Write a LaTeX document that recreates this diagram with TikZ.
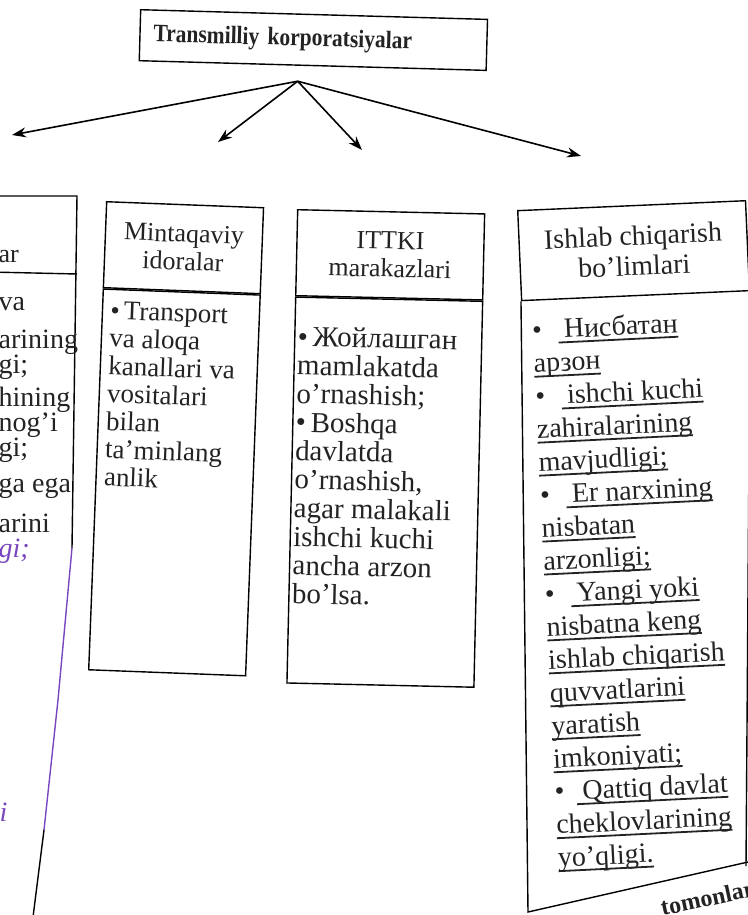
\documentclass[tikz,border=0pt]{standalone}
\usepackage{fontspec}
\setmainfont{Liberation Serif}
\newfontfamily\narrowserif[FakeStretch=0.86]{Liberation Serif}
\newcommand\ulin[1]{\setbox0=\hbox{#1}\rlap{\rule[-2.6pt]{\wd0}{0.9pt}}\box0}
\usetikzlibrary{arrows.meta,positioning}
\definecolor{fringe}{RGB}{120,70,190}
\definecolor{ink}{RGB}{35,35,35}
\begin{document}
\begin{tikzpicture}[x=0.5pt,y=-0.5pt,line width=0.7pt,
    head/.style={draw,anchor=north west,align=center,inner sep=0pt,text=ink,
      font=\fontsize{13}{14}\selectfont},
    body/.style={draw,inner sep=0pt},
    list/.style={anchor=north west,align=left,text=ink}]
  \useasboundingbox (0,0) rectangle (748,915);

  \node[head,rotate=-1.6,minimum width=173.5pt,minimum height=25.5pt,
    text width=160pt,align=left,font=\fontsize{12.5}{14}\narrowserif\bfseries]
    (tnk) at (140,9) {Transmilliy korporatsiyalar};
  \coordinate (hub) at ([xshift=-7.5pt,yshift=-7.5pt]tnk.south);
  \coordinate (toleft) at (12,135);
  \coordinate (toreg) at (218,142);
  \coordinate (tolab) at (362,150);
  \coordinate (toprod) at (581,156);
  \path[-{Stealth[length=7pt,width=5pt]},line width=0.8pt]
    (hub) edge (toleft)
          edge (toreg)
          edge (tolab)
          edge (toprod);

  \draw (-10,196) -- (77,196) -- (72,548);
  \draw[fringe] (72,548) -- (58,700) -- (44,830);
  \draw (44,830) -- (32,925);
  \draw (-10,272) -- (77,274);
  \node[anchor=west,inner sep=0pt,text=ink,font=\fontsize{13}{14}\selectfont] (lefttitle) at (-2,256) {ar};
  \node[list,inner sep=0pt,font=\fontsize{14}{12.5}\selectfont] (leftlist) at (-2,297)
    {va\\[6.5pt]arining\\gi;\\[2.5pt]hining\\nog’i\\gi;\\[5.5pt]ga ega\\[7.5pt]arini\\{\color{fringe}\itshape gi;}};
  \node[anchor=west,inner sep=0pt,text=fringe,font=\fontsize{14}{14}\selectfont\itshape] (lefttail) at (-1,812) {i};

  \node[head,rotate=-2.2,minimum width=78.5pt,minimum height=43pt] (reghead) at (106,201) {Mintaqaviy\\idoralar};
  \node[body,rotate=-2.2,minimum width=78.5pt,minimum height=190.5pt,below=0pt of reghead] (regbody) {};
  \node[list,rotate=-2.2,inner xsep=4pt,inner ysep=6pt,font=\fontsize{13.5}{13.9}\selectfont]
    (reglist) at (regbody.north west)
    {\textbullet\hspace{2pt}Transport\\va aloqa\\kanallari va\\vositalari\\bilan\\ta’minlang\\anlik};

  \node[head,rotate=-1.3,minimum width=93.5pt,minimum height=43pt] (labhead) at (297,209) {ITTKI\\marakazlari};
  \node[body,rotate=-1.3,minimum width=93.5pt,minimum height=193pt,below=0pt of labhead] (labbody) {};
  \node[list,rotate=-1.3,inner xsep=1.5pt,inner ysep=14.5pt,font=\fontsize{14.5}{14.3}\selectfont]
    (lablist) at (labbody.north west)
    {\textbullet\,Жойлашган\\mamlakatda\\o’rnashish;\\\textbullet\,Boshqa\\davlatda\\o’rnashish,\\agar malakali\\ishchi kuchi\\ancha arzon\\bo’lsa.};

  \node[head,rotate=2.5,minimum width=114pt,minimum height=45pt,font=\fontsize{14}{15}\selectfont]
    (prodhead) at (517,210) {Ishlab chiqarish\\bo’limlari};
  \draw (prodhead.south west) -- (528,912) -- (748,862);
  \draw (prodhead.south east) -- (746,866);
  \node[list,rotate=2.8,inner xsep=4.5pt,inner ysep=9pt,font=\fontsize{14}{16.5}\selectfont]
    (prodlist) at (prodhead.south west)
    {\textbullet\hspace{8pt}\ulin{\hspace{3pt}Нисбатан}\\
     \ulin{арзон}\\
     \textbullet\hspace{8pt}\ulin{\hspace{3pt}ishchi kuchi}\\
     \ulin{zahiralarining}\\
     \ulin{mavjudligi;}\\
     \textbullet\hspace{8pt}\ulin{\hspace{3pt}Er narxining}\\
     \ulin{nisbatan}\\
     \ulin{arzonligi;}\\
     \textbullet\hspace{8pt}\ulin{\hspace{3pt}Yangi yoki}\\
     \ulin{nisbatna keng}\\
     \ulin{ishlab chiqarish}\\
     \ulin{quvvatlarini}\\
     \ulin{yaratish}\\
     \ulin{imkoniyati;}\\
     \textbullet\hspace{6pt}\ulin{\hspace{3pt}Qattiq davlat}\\
     \ulin{cheklovlarining}\\
     \ulin{yo’qligi.}};
  \node[anchor=base west,rotate=12,inner sep=0pt,text=ink,font=\fontsize{12}{12}\selectfont\bfseries]
    (tomon) at (662,916) {tomonlar};
\end{tikzpicture}
\end{document}
